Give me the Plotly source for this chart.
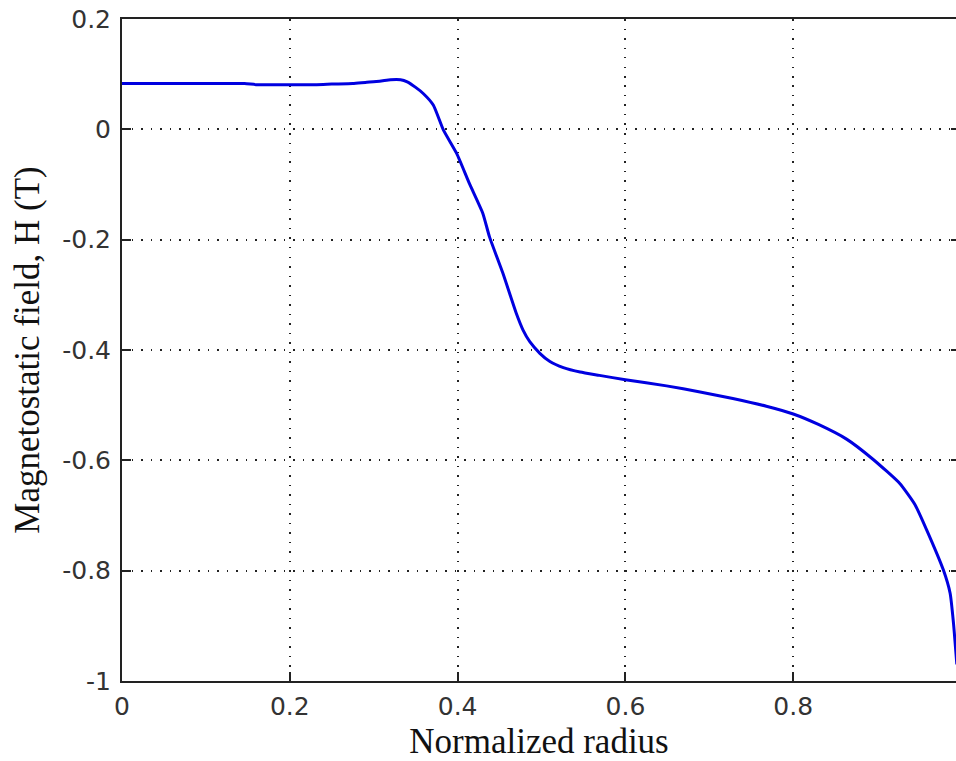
import plotly.graph_objects as go

# Normalized radius (x) and magnetostatic field H in T (y)
radius = [0.0, 0.05, 0.10, 0.146, 0.16, 0.20, 0.232, 0.25, 0.275, 0.29, 0.307, 0.32,
          0.332, 0.340, 0.350, 0.359, 0.371, 0.383, 0.399, 0.414, 0.430, 0.438, 0.454,
          0.470, 0.478, 0.486, 0.498, 0.510, 0.526, 0.546, 0.569, 0.600, 0.649, 0.689,
          0.728, 0.768, 0.800, 0.830, 0.864, 0.895, 0.927, 0.945, 0.959, 0.979, 0.987,
          0.991, 0.995]
field = [0.083, 0.083, 0.083, 0.083, 0.081, 0.081, 0.081, 0.082, 0.083, 0.085, 0.087, 0.090,
         0.090, 0.086, 0.076, 0.065, 0.044, -0.001, -0.044, -0.098, -0.152, -0.195, -0.261,
         -0.334, -0.364, -0.385, -0.406, -0.421, -0.432, -0.440, -0.446, -0.454, -0.465, -0.476,
         -0.488, -0.502, -0.516, -0.535, -0.562, -0.598, -0.642, -0.680, -0.726, -0.799, -0.841,
         -0.895, -0.970]

x_ticks = [0, 0.2, 0.4, 0.6, 0.8]
x_tick_text = ["0", "0.2", "0.4", "0.6", "0.8"]
y_ticks = [0.2, 0, -0.2, -0.4, -0.6, -0.8, -1]
y_tick_text = ["0.2", "0", "-0.2", "-0.4", "-0.6", "-0.8", "-1"]

fig = go.Figure()
fig.add_trace(go.Scatter(x=radius, y=field, mode="lines",
                         line=dict(color="#0000e0", width=3, shape="spline", smoothing=0.5),
                         showlegend=False))

tick_font = dict(family="DejaVu Sans", size=25, color="#333333")
title_font = dict(family="Liberation Serif", size=35, color="#111111")

fig.update_layout(
    width=956, height=761,
    margin=dict(l=122, r=0, t=19, b=80),
    paper_bgcolor="white", plot_bgcolor="white",
    xaxis=dict(
        range=[0, 0.994], tickvals=x_ticks, ticktext=x_tick_text,
        showline=True, linecolor="#222222", linewidth=2, mirror=True,
        ticks="inside", ticklen=9, tickwidth=2, tickcolor="#222222",
        showgrid=True, gridcolor="#222222", gridwidth=1.5, griddash="1.5px,8px",
        zeroline=False, tickfont=tick_font, ticklabelstandoff=2,
        title=dict(text="Normalized radius", font=title_font, standoff=16),
    ),
    yaxis=dict(
        range=[-1, 0.2], tickvals=y_ticks, ticktext=y_tick_text,
        showline=True, linecolor="#222222", linewidth=2, mirror=False,
        ticks="inside", ticklen=9, tickwidth=2, tickcolor="#222222",
        showgrid=True, gridcolor="#222222", gridwidth=1.5, griddash="1.5px,8px",
        zeroline=False, tickfont=tick_font, ticklabelstandoff=4,
        title=dict(text="Magnetostatic field, H (T)", font=title_font, standoff=12),
    ),
    yaxis2=dict(
        range=[-1, 0.2], tickvals=y_ticks, overlaying="y", side="right",
        showline=False, showgrid=False, zeroline=False, showticklabels=False,
        ticks="inside", ticklen=5, tickwidth=2, tickcolor="#222222",
    ),
)
fig.add_trace(go.Scatter(x=[None], y=[None], yaxis="y2", showlegend=False, hoverinfo="skip"))

fig.write_html("out.html")
